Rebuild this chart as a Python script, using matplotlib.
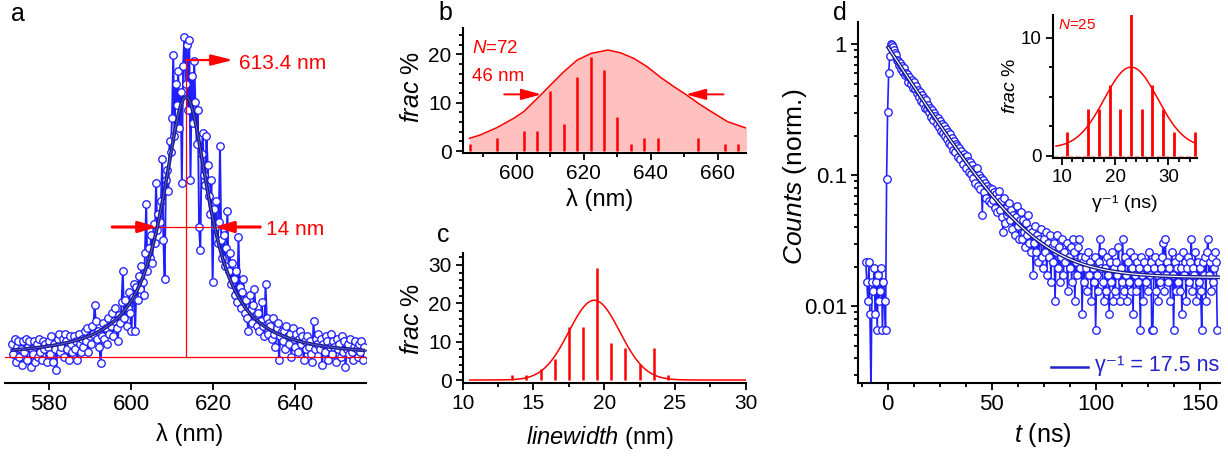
import numpy as np
import matplotlib
matplotlib.use('Agg')
import matplotlib.pyplot as plt
from matplotlib.lines import Line2D
from matplotlib.ticker import MultipleLocator, FixedLocator, FixedFormatter, LogLocator, NullFormatter

plt.rcParams['font.family'] = ['Liberation Sans', 'DejaVu Sans']
plt.rcParams['mathtext.fontset'] = 'custom'
plt.rcParams['mathtext.rm'] = 'Liberation Sans'
plt.rcParams['mathtext.it'] = 'Liberation Sans:italic'
plt.rcParams['mathtext.bf'] = 'Liberation Sans:bold'

# ---------------- data ----------------
# panel a : single-particle spectrum (normalised), wavelength grid start/step
A_WL_START = 571.0
A_WL_STEP = 0.3
A_INTENSITY = [
    0.05, 0.01, 0.07, -0.02, 0.04, 0.06, 0.00, 0.03, -0.03, 0.06,
    0.02, 0.07, -0.01, 0.04, 0.06, -0.04, 0.03, 0.01, 0.06, -0.02,
    0.05, 0.00, 0.07, 0.02, -0.01, 0.06, 0.03, 0.05, -0.02, 0.04,
    0.06, 0.01, 0.08, -0.02, 0.05, 0.03, -0.05, 0.07, 0.09, 0.02,
    0.04, 0.07, 0.00, 0.09, 0.06, 0.03, -0.01, 0.08, 0.05, 0.02,
    0.08, 0.03, 0.06, -0.01, 0.09, 0.05, 0.02, 0.07, 0.04, 0.10,
    0.06, 0.11, 0.02, 0.08, 0.05, 0.12, 0.09, 0.20, 0.14, 0.07,
    0.10, 0.04, -0.025, 0.08, 0.13, 0.07, 0.11, 0.05, 0.15, 0.09,
    0.12, 0.17, 0.08, 0.14, 0.19, 0.11, 0.06, 0.16, 0.13, 0.21,
    0.33, 0.15, 0.22, 0.12, 0.19, 0.25, 0.17, 0.10, 0.23, 0.28,
    0.10, 0.27, 0.22, 0.31, 0.26, 0.35, 0.29, 0.24, 0.40, 0.59,
    0.33, 0.42, 0.38, 0.47, 0.36, 0.51, 0.44, 0.67, 0.49, 0.55,
    0.52, 0.60, 0.76, 0.45, 0.30, 0.68, 0.72, 0.64, 0.83, 0.79,
    0.92, 1.16, 0.85, 1.05, 0.97, 1.10, 0.88, 1.02, 0.67, 1.12,
    1.23, 1.05, 1.20, 0.95, 1.22, 0.68, 1.08, 0.90, 1.14, 0.98,
    0.82, 0.95, 0.50, 0.41, 0.78, 0.86, 0.70, 0.66, 0.85, 0.74,
    0.62, 0.55, 0.68, 0.29, 0.57, 0.50, 0.60, 0.44, 0.52, 0.81,
    0.45, 0.38, 0.47, 0.35, 0.42, 0.56, 0.33, 0.40, 0.28, 0.36,
    0.30, 0.24, 0.33, 0.21, 0.46, 0.27, 0.19, 0.25, 0.30, 0.17,
    0.22, 0.15, 0.10, 0.24, 0.18, 0.13, 0.20, 0.26, 0.16, 0.12,
    0.17, 0.10, 0.14, 0.21, 0.12, 0.08, 0.28, 0.15, 0.09, 0.13,
    0.12, 0.07, 0.15, 0.09, 0.04, 0.11, 0.13, -0.01, 0.08, 0.10,
    0.06, 0.10, 0.03, 0.12, 0.08, 0.05, 0.09, 0.00, 0.11, 0.07,
    0.04, 0.09, 0.02, 0.07, 0.10, 0.05, 0.08, -0.01, 0.06, 0.03,
    0.08, 0.04, 0.06, 0.01, -0.02, 0.14, 0.03, 0.07, 0.05, 0.09,
    0.03, 0.07, -0.03, 0.05, 0.02, 0.08, 0.06, -0.01, 0.04, 0.09,
    0.01, 0.06, 0.04, -0.02, 0.07, 0.03, 0.05, 0.00, 0.08, 0.02,
    0.06, -0.04, 0.03, 0.05, 0.01, 0.07, 0.02, -0.01, 0.04, 0.06,
    0.03, 0.00, 0.05, 0.02, 0.06, -0.01, 0.04,
]
A_PEAK_NM = 613.4        # Lorentzian fit centre
A_FWHM_NM = 14.0         # Lorentzian fit FWHM
A_XTICKS = [580, 600, 620, 640]

# panel b : histogram of peak wavelengths
B_BIN_NM = [586, 594, 602, 606, 610, 614, 618, 622, 626, 630, 634, 638, 642, 654, 662, 666]
B_FRAC = [1.39, 2.78, 4.17, 4.17, 12.5, 5.56, 15.28, 19.44, 16.67, 6.94, 1.39, 2.78, 2.78, 2.78, 1.39, 1.39]
B_FIT_NM = [585.8, 589.0, 594.0, 599.0, 602.0, 607.3, 610.0, 614.0, 618.0, 622.2, 627.2,
            630.9, 634.9, 638.9, 642.9, 646.9, 650.4, 654.9, 658.9, 662.9, 668.7]
B_FIT_FRAC = [2.62, 3.31, 4.83, 6.76, 8.14, 11.72, 13.66, 16.41, 18.83, 20.21, 20.9,
              20.34, 19.17, 17.45, 15.24, 13.31, 11.72, 9.52, 7.79, 6.07, 4.69]
B_HALF_LEFT, B_HALF_RIGHT, B_HALF_LEVEL = 607.3, 650.4, 11.72
B_XTICKS = [600, 620, 640, 660]
B_YTICKS = [0, 10, 20]

# panel c : histogram of linewidths
C_BIN_NM = [13.5, 14.5, 15.5, 16.5, 17.5, 18.5, 19.5, 20.5, 21.5, 22.5, 23.5, 24.5]
C_FRAC = [1.39, 1.39, 2.78, 5.56, 13.89, 13.89, 29.17, 9.72, 8.33, 4.17, 8.33, 1.39]
C_FIT_AMP, C_FIT_CENTER, C_FIT_SIGMA = 20.8, 19.3, 1.8
C_XTICKS = [10, 15, 20, 25, 30]
C_YTICKS = [0, 10, 20, 30]

# panel d : decay trace (photon counts per 0.5 ns bin, normalised by peak)
D_T_START = -10.5
D_T_STEP = 0.5
D_COUNTS = [
    10, 7, 5, 10, 4, 1, 7, 6, 9, 4,
    7, 3, 8, 5, 6, 9, 3, 7, 5, 3,
    43, 141, 276, 375, 460, 455, 438, 420, 398, 380,
    352, 341, 318, 329, 297, 312, 284, 301, 268, 279,
    271, 238, 259, 231, 247, 214, 236, 208, 223, 196,
    205, 181, 199, 170, 189, 164, 180, 151, 172, 147,
    158, 139, 150, 129, 146, 122, 137, 131, 113, 125,
    108, 119, 101, 113, 96, 109, 91, 104, 87, 98,
    81, 95, 79, 88, 72, 84, 69, 80, 77, 63,
    74, 61, 70, 56, 67, 63, 52, 64, 59, 49,
    58, 47, 55, 44, 51, 40, 49, 52, 38, 46,
    36, 44, 23, 42, 34, 40, 31, 38, 29, 37,
    28, 36, 30, 34, 26, 33, 24, 31, 35, 25,
    29, 22, 17, 31, 20, 26, 23, 24, 28, 21,
    25, 18, 23, 16, 22, 27, 19, 15, 21, 24,
    15, 21, 17, 13, 20, 16, 23, 14, 18, 12,
    17, 8, 14, 19, 12, 16, 10, 15, 18, 11,
    9, 15, 12, 17, 8, 14, 11, 16, 7, 13,
    10, 14, 5, 12, 16, 9, 13, 7, 11, 15,
    8, 12, 10, 14, 6, 11, 9, 13, 7, 15,
    12, 5, 10, 8, 13, 15, 9, 11, 4, 10,
    7, 11, 9, 6, 12, 8, 10, 5, 9, 7,
    11, 3, 8, 6, 10, 15, 9, 12, 7, 5,
    9, 6, 11, 8, 4, 10, 7, 12, 5, 9,
    6, 10, 8, 13, 5, 9, 7, 15, 6, 11,
    8, 5, 10, 7, 12, 6, 9, 4, 11, 8,
    6, 10, 7, 9, 3, 11, 8, 5, 10, 7,
    9, 6, 12, 8, 10, 3, 3, 9, 11, 6,
    8, 5, 10, 7, 9, 11, 14, 6, 15, 8,
    10, 7, 9, 5, 12, 8, 3, 10, 6, 9,
    7, 11, 6, 9, 4, 12, 8, 10, 5, 9,
    11, 7, 10, 15, 6, 9, 8, 12, 5, 10,
    7, 9, 6, 3, 10, 8, 11, 5, 12, 15,
    8, 10, 6, 11, 7, 9, 12, 10, 3,
]
D_PEAK_COUNTS = 460
D_FIT_AMP, D_FIT_T0, D_FIT_TAU, D_FIT_BG = 0.93, 0.3, 17.5, 0.0165
D_XTICKS = [0, 50, 100, 150]
D_YTICKS = [0.01, 0.1, 1]
D_YTICKLABELS = ['0.01', '0.1', '1']

# panel d inset : histogram of decay times
I_BIN_NS = [11, 15, 17, 19, 21, 23, 25, 27, 29, 31, 35]
I_FRAC = [2, 4, 4, 6, 4, 12, 4, 6, 4, 2, 2]
I_FIT_BG, I_FIT_AMP, I_FIT_CENTER, I_FIT_SIGMA = 0.7, 6.8, 23.0, 5.0
I_XTICKS = [10, 20, 30]
I_YTICKS = [0, 10]

# ---------------- styling helpers ----------------
W, H = 1228, 459
fig = plt.figure(figsize=(W / 100, H / 100), dpi=100)

def box(l, t, r, b):
    return [l / W, 1 - b / H, (r - l) / W, (b - t) / H]

RED = '#ff0000'
BLUE = '#1f1fff'
NAVY = '#1c1c8c'
MS = 5.4

def style(ax, left=True):
    for s in ['top', 'right']:
        ax.spines[s].set_visible(False)
    ax.spines['left'].set_visible(left)
    for s in ['left', 'bottom']:
        ax.spines[s].set_linewidth(1.5)
    ax.tick_params(which='major', direction='out', length=5, width=1.3, pad=3)
    ax.tick_params(which='minor', direction='out', length=3, width=1.3)
    ax.set_facecolor('none')

arrow_kw = dict(color=RED, shrinkA=0, shrinkB=0, mutation_scale=11)

# ---------------- panel a ----------------
axA = fig.add_axes(box(5, 20, 366, 383))
style(axA, left=False)
wl = A_WL_START + A_WL_STEP * np.arange(len(A_INTENSITY))
axA.plot(wl, A_INTENSITY, '-', color=BLUE, lw=1.4, marker='o', ms=MS,
         mfc='white', mec=BLUE, mew=0.95, zorder=2)
lor_x = np.linspace(wl[0], wl[-1], 600)
lor_y = 1.0 / (1.0 + ((lor_x - A_PEAK_NM) / (A_FWHM_NM / 2)) ** 2)
axA.axhline(0, color=RED, lw=0.9, zorder=3)
axA.plot([A_PEAK_NM, A_PEAK_NM], [0, 1.146], color=RED, lw=0.9, zorder=3)
axA.plot([595.4, 631.5], [0.5, 0.5], color=RED, lw=0.9, zorder=3)
axA.annotate('', xy=(A_PEAK_NM - A_FWHM_NM / 2, 0.5), xytext=(595.4, 0.5),
             arrowprops=dict(arrowstyle='-|>,head_length=1.0,head_width=0.3', lw=2.2, **arrow_kw), zorder=4)
axA.annotate('', xy=(A_PEAK_NM + A_FWHM_NM / 2, 0.5), xytext=(631.5, 0.5),
             arrowprops=dict(arrowstyle='-|>,head_length=1.0,head_width=0.3', lw=2.2, **arrow_kw), zorder=4)
axA.annotate('', xy=(624.9, 1.142), xytext=(A_PEAK_NM, 1.142),
             arrowprops=dict(arrowstyle='-|>,head_length=1.2,head_width=0.3', lw=1.6, **arrow_kw), zorder=4)
axA.plot(lor_x, lor_y, color=NAVY, lw=2.6, zorder=5, solid_capstyle='round')
axA.plot(lor_x, lor_y, color='#5a5ad8', lw=0.7, zorder=6)
axA.text(626.4, 1.127, f'{A_PEAK_NM} nm', color=RED, fontsize=15, va='center', ha='left')
axA.text(632.9, 0.49, f'{A_FWHM_NM:.0f} nm', color=RED, fontsize=15, va='center', ha='left')
axA.set_xlim(569.27, 657.3)
axA.set_ylim(-0.1, 1.296)
axA.set_xticks(A_XTICKS)
axA.set_yticks([])
axA.tick_params(axis='x', labelsize=16)
axA.text(0.512, -0.143, 'λ (nm)', transform=axA.transAxes, ha='center', va='center', fontsize=17)

# ---------------- panel b ----------------
axB = fig.add_axes(box(462.7, 28.3, 746, 152.7))
style(axB)
axB.fill_between(B_FIT_NM, 0, B_FIT_FRAC, color='#ffc0c0', lw=0, zorder=1)
axB.plot(B_FIT_NM, B_FIT_FRAC, color=RED, lw=1.1, zorder=3)
axB.vlines(B_BIN_NM, 0, B_FRAC, color=RED, lw=1.8, zorder=2)
axB.annotate('', xy=(B_HALF_LEFT, B_HALF_LEVEL), xytext=(596.2, B_HALF_LEVEL),
             arrowprops=dict(arrowstyle='-|>,head_length=1.1,head_width=0.3', lw=1.4, **arrow_kw), zorder=4)
axB.annotate('', xy=(B_HALF_RIGHT, B_HALF_LEVEL), xytext=(661.7, B_HALF_LEVEL),
             arrowprops=dict(arrowstyle='-|>,head_length=1.1,head_width=0.3', lw=1.4, **arrow_kw), zorder=4)
axB.text(586.7, 21.2, r'$\mathit{N}$=72', color=RED, fontsize=13.5, va='center', ha='left')
axB.text(586.7, 15.4, '46 nm', color=RED, fontsize=13.5, va='center', ha='left')
axB.set_xlim(583.8, 668.4)
axB.set_ylim(-0.35, 25.4)
axB.set_xticks(B_XTICKS)
axB.xaxis.set_minor_locator(MultipleLocator(10))
axB.set_yticks(B_YTICKS)
axB.yaxis.set_minor_locator(MultipleLocator(2))
axB.tick_params(labelsize=15)
axB.text(0.485, -0.375, 'λ (nm)', transform=axB.transAxes, ha='center', va='center', fontsize=17)
axB.text(-0.18, 0.526, r'$\mathit{frac}$ %', transform=axB.transAxes, ha='center', va='center',
         rotation=90, fontsize=18)

# ---------------- panel c ----------------
axC = fig.add_axes(box(462.7, 253.3, 745.7, 382.7))
style(axC)
cx = np.linspace(10.5, 30, 400)
cy = C_FIT_AMP * np.exp(-(cx - C_FIT_CENTER) ** 2 / (2 * C_FIT_SIGMA ** 2))
axC.vlines(C_BIN_NM, 0, C_FRAC, color=RED, lw=1.8, zorder=2)
axC.plot(cx, cy, color=RED, lw=1.1, zorder=3)
axC.set_xlim(10, 30)
axC.set_ylim(-0.7, 33.05)
axC.set_xticks(C_XTICKS)
axC.xaxis.set_minor_locator(MultipleLocator(2.5))
axC.set_yticks(C_YTICKS)
axC.yaxis.set_minor_locator(MultipleLocator(2))
axC.tick_params(labelsize=15)
axC.text(0.485, -0.42, r'$\mathit{linewidth}$ (nm)', transform=axC.transAxes, ha='center', va='center', fontsize=17)
axC.text(-0.18, 0.49, r'$\mathit{frac}$ %', transform=axC.transAxes, ha='center', va='center',
         rotation=90, fontsize=18)

# ---------------- panel d ----------------
axD = fig.add_axes(box(858.3, 21.7, 1220, 382.7))
style(axD)
t = D_T_START + D_T_STEP * np.arange(len(D_COUNTS))
counts_norm = np.array(D_COUNTS, dtype=float) / D_PEAK_COUNTS
axD.plot(t, counts_norm, '-', color=BLUE, lw=1.2, marker='o', ms=MS,
         mfc='white', mec=BLUE, mew=0.95, zorder=2)
ft = np.linspace(D_FIT_T0, 159.5, 600)
fy = D_FIT_AMP * np.exp(-(ft - D_FIT_T0) / D_FIT_TAU) + D_FIT_BG
axD.plot(ft, fy, color=NAVY, lw=2.8, zorder=5)
axD.plot(ft, fy, color='white', lw=0.8, zorder=6)
axD.set_yscale('log')
axD.set_xlim(-14.1, 159.8)
axD.set_ylim(0.0026, 1.49)
axD.set_xticks(D_XTICKS)
axD.xaxis.set_minor_locator(MultipleLocator(12.5))
axD.yaxis.set_major_locator(FixedLocator(D_YTICKS))
axD.yaxis.set_major_formatter(FixedFormatter(D_YTICKLABELS))
axD.yaxis.set_minor_locator(LogLocator(base=10, subs=np.arange(2, 10)))
axD.yaxis.set_minor_formatter(NullFormatter())
axD.tick_params(labelsize=16)
axD.text(0.511, -0.145, r'$\mathit{t}$ (ns)', transform=axD.transAxes, ha='center', va='center', fontsize=18)
axD.text(-0.175, 0.57, r'$\mathit{Counts}$ (norm.)', transform=axD.transAxes, ha='center', va='center',
         rotation=90, fontsize=19)
# legend
fig.add_artist(Line2D([1050.7 / W, 1088 / W], [1 - 367.3 / H, 1 - 367.3 / H], color='#2323cc', lw=1.8))
fig.text(1095 / W, 1 - 366 / H, f'γ⁻¹ = {D_FIT_TAU} ns', color='#2323cc', fontsize=15.5, va='center', ha='left')

# ---------------- inset ----------------
axI = fig.add_axes(box(1052.7, 15, 1197.3, 158.3))
style(axI)
ix = np.linspace(8.95, 35.1, 300)
iy = I_FIT_BG + I_FIT_AMP * np.exp(-(ix - I_FIT_CENTER) ** 2 / (2 * I_FIT_SIGMA ** 2))
axI.axhline(0, color='#ffb4b4', lw=1.0, ls='--', zorder=1)
axI.vlines(I_BIN_NS, 0, I_FRAC, color=RED, lw=2.0, zorder=2)
axI.plot(ix, iy, color=RED, lw=1.1, zorder=3)
axI.set_xlim(8.33, 35.4)
axI.set_ylim(-0.2, 11.9)
axI.set_xticks(I_XTICKS)
axI.xaxis.set_minor_locator(MultipleLocator(2))
axI.set_yticks(I_YTICKS)
axI.yaxis.set_minor_locator(MultipleLocator(2.5))
axI.tick_params(labelsize=13.5)
axI.text(0.5, -0.312, 'γ⁻¹ (ns)', transform=axI.transAxes, ha='center', va='center', fontsize=14)
axI.text(-0.29, 0.508, r'$\mathit{frac}$ %', transform=axI.transAxes, ha='center', va='center',
         rotation=90, fontsize=14)
axI.text(0.04, 0.93, r'$\mathit{N}$=25', transform=axI.transAxes, color=RED, fontsize=11, va='center', ha='left')

# ---------------- panel letters ----------------
for letter, px, py in [('a', 18, 14), ('b', 445, 13), ('c', 443, 235), ('d', 840, 13)]:
    fig.text(px / W, 1 - py / H, letter, fontsize=18, ha='center', va='center')

fig.savefig('out.png', dpi=100)
